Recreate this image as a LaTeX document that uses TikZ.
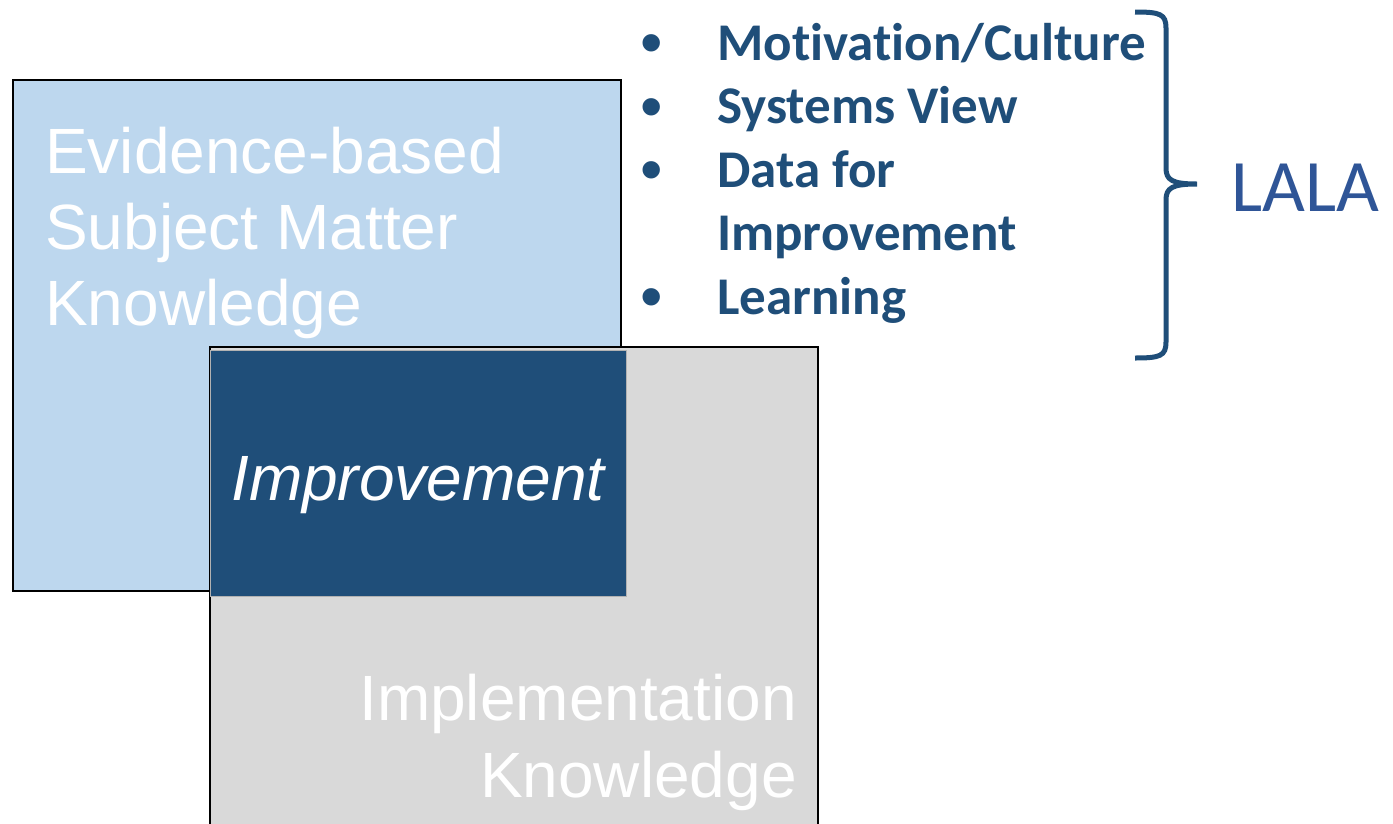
\documentclass[tikz,border=0pt]{standalone}
\usepackage{fontspec}
\setmainfont{Liberation Sans}
\newfontfamily\calib[Ligatures=NoCommon]{Carlito}
\definecolor{lightblue}{HTML}{BDD7EE}
\definecolor{lightgray}{HTML}{D9D9D9}
\definecolor{darkblue}{HTML}{1F4E79}
\definecolor{midblue}{HTML}{2F5597}
\begin{document}
\begin{tikzpicture}[x=1pt,y=-1pt,
  boxtext/.style={text=white,inner sep=0pt,font=\fontsize{64}{77}\selectfont},
  itemtext/.style={text=darkblue,inner sep=0pt,anchor=base west,font=\calib\bfseries\fontsize{53}{64}\selectfont},
  bul/.style={text=darkblue,inner sep=0pt,anchor=center,font=\fontsize{64}{70}\selectfont}]
\useasboundingbox (0,0) rectangle (1393,823);
% three overlapping knowledge areas
\path[fill=lightblue,draw=black,line width=1.5pt] (13,80) rectangle (621,591);
\path[fill=lightgray,draw=black,line width=1.5pt] (210,347) rectangle (818,840);
\path[fill=darkblue,draw=black!30,line width=0.8pt] (210,350) rectangle (626,596);
% labels inside the boxes
\node[boxtext,anchor=base west] (ev1) at (45,173) {Evidence-based};
\node[boxtext,anchor=base west] (ev2) at (45,249) {Subject Matter};
\node[boxtext,anchor=base west] (ev3) at (45,325) {Knowledge};
\node[boxtext,anchor=base,font=\itshape\fontsize{64}{77}\selectfont] (imp) at (418,500) {Improvement};
\node[boxtext,anchor=base east] (im1) at (797,720) {Implementation};
\node[boxtext,anchor=base east] (im2) at (797,797) {Knowledge};
% bullet list
\node[bul] (b1) at (652,50) {•};
\node[bul] (b2) at (652,114) {•};
\node[bul] (b3) at (652,177) {•};
\node[bul] (b4) at (652,304) {•};
\node[itemtext] (t1) at (717,60) {Motivation/Culture};
\node[itemtext] (t2) at (717,123) {Systems View};
\node[itemtext] (t3) at (717,187) {Data for};
\node[itemtext] (t4) at (717,250) {Improvement};
\node[itemtext] (t5) at (717,314) {Learning};
% brace grouping the list
\coordinate (btop) at (1135,12);
\coordinate (btip) at (1197,184);
\coordinate (bbot) at (1135,358);
\draw[darkblue,line width=5pt,line cap=butt]
  (btop) .. controls (1160,12) and (1166,14) .. (1166,28) -- (1166,168)
  .. controls (1166,180) and (1172,184) .. (btip)
  .. controls (1172,184) and (1166,188) .. (1166,200) -- (1166,342)
  .. controls (1166,356) and (1160,358) .. (bbot);
\node[text=midblue,inner sep=0pt,anchor=base west,font=\calib\fontsize{74}{88}\selectfont] (lala) at (1231,211) {LALA};
\end{tikzpicture}
\end{document}
